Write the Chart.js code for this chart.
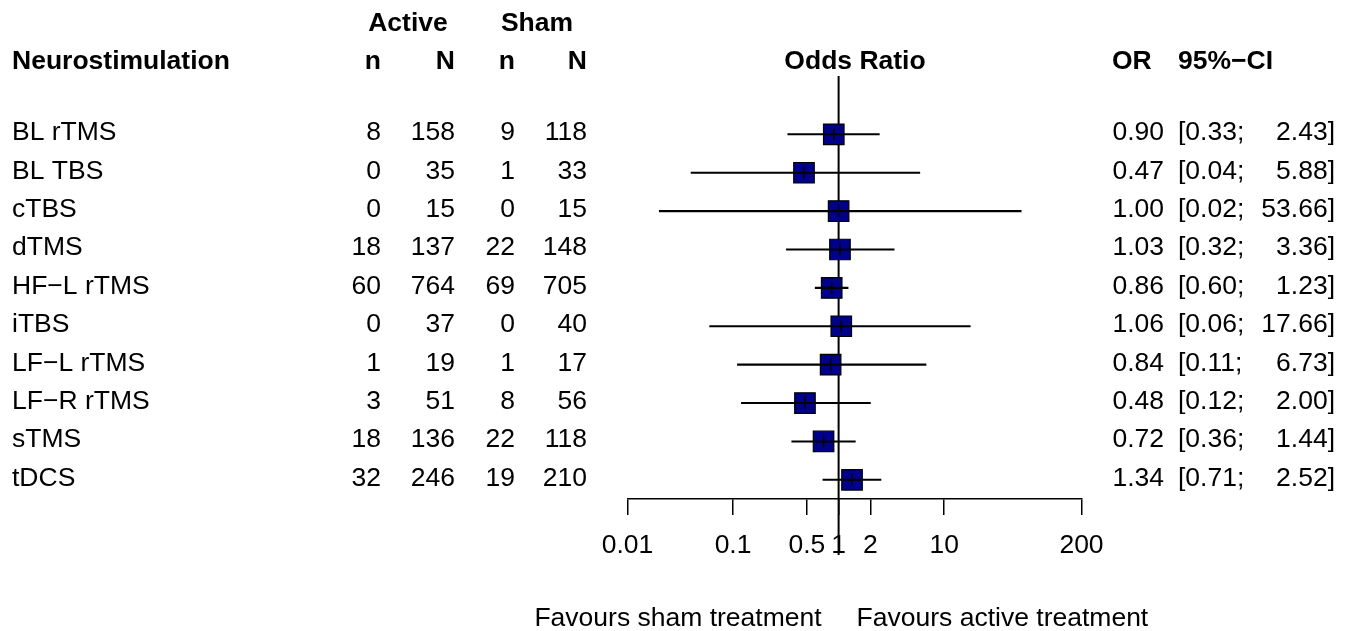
<!DOCTYPE html>
<html>
<head>
<meta charset="utf-8">
<script src="https://cdn.jsdelivr.net/npm/chart.js@4.4.1/dist/chart.umd.min.js"></script>
<style>
  body { margin: 0; background: #fff; }
  canvas { display: block; }
</style>
</head>
<body>
<canvas id="forest" width="1346" height="631"></canvas>
<script>
// rows of the forest plot
const labels = ["BL rTMS", "BL TBS", "cTBS", "dTMS", "HF\u2212L rTMS", "iTBS", "LF\u2212L rTMS", "LF\u2212R rTMS", "sTMS", "tDCS"];
const activeEvents = [8, 0, 0, 18, 60, 0, 1, 3, 18, 32];
const activeTotal = [158, 35, 15, 137, 764, 37, 19, 51, 136, 246];
const shamEvents = [9, 1, 0, 22, 69, 0, 1, 8, 22, 19];
const shamTotal = [118, 33, 15, 148, 705, 40, 17, 56, 118, 210];
const oddsRatio = [0.90, 0.47, 1.00, 1.03, 0.86, 1.06, 0.84, 0.48, 0.72, 1.34];
const ciLower = [0.33, 0.04, 0.02, 0.32, 0.60, 0.06, 0.11, 0.12, 0.36, 0.71];
const ciUpper = [2.43, 5.88, 53.66, 3.36, 1.23, 17.66, 6.73, 2.00, 1.44, 2.52];
const xTicks = [0.01, 0.1, 0.5, 1, 2, 10, 200];
const refValue = 1;

const FONT = '"Liberation Sans", Arial, Helvetica, sans-serif';
const SIZE = 26.5;
const rowIdx = labels.map((_, i) => i);

// text columns (x positions in px)
const col = {
  label: 12,
  aN: 381, aT: 455, sN: 515, sT: 587,
  or: 1164, ciL: 1178, ciR: 1335,
};

const textPlugin = {
  id: "forestText",
  beforeDatasetsDraw(chart) {
    const c = chart.ctx, x = chart.scales.x, area = chart.chartArea;
    const px = x.getPixelForValue(refValue);
    c.save();
    c.strokeStyle = "#000";
    c.lineWidth = 2;
    c.beginPath();
    c.moveTo(px, area.top);
    c.lineTo(px, area.bottom + 56);
    c.stroke();
    c.restore();
  },
  afterDraw(chart) {
    const c = chart.ctx, y = chart.scales.y, x = chart.scales.x, area = chart.chartArea;
    c.save();
    c.fillStyle = "#000";
    c.textBaseline = "alphabetic";

    // headers
    c.font = "bold " + SIZE + "px " + FONT;
    const h1 = area.top - 45.5, h2 = area.top - 7.5;
    c.textAlign = "center";
    c.fillText("Active", 408, h1);
    c.fillText("Sham", 537, h1);
    c.fillText("Odds Ratio", 855, h2);
    c.textAlign = "left";
    c.fillText("Neurostimulation", col.label, h2);
    c.fillText("OR", 1112, h2);
    c.fillText("95%\u2212CI", col.ciL, h2);
    c.textAlign = "right";
    c.fillText("n", col.aN, h2);
    c.fillText("N", col.aT, h2);
    c.fillText("n", col.sN, h2);
    c.fillText("N", col.sT, h2);

    // rows
    c.font = SIZE + "px " + FONT;
    labels.forEach((lab, i) => {
      const yy = y.getPixelForValue(i) + 6;
      c.textAlign = "left";
      c.fillText(lab, col.label, yy);
      c.fillText("[" + ciLower[i].toFixed(2) + ";", col.ciL, yy);
      c.textAlign = "right";
      c.fillText(String(activeEvents[i]), col.aN, yy);
      c.fillText(String(activeTotal[i]), col.aT, yy);
      c.fillText(String(shamEvents[i]), col.sN, yy);
      c.fillText(String(shamTotal[i]), col.sT, yy);
      c.fillText(oddsRatio[i].toFixed(2), col.or, yy);
      c.fillText(ciUpper[i].toFixed(2) + "]", col.ciR, yy);
    });

    // favours labels
    const px = x.getPixelForValue(refValue);
    const fy = area.bottom + 127;
    c.textAlign = "right";
    c.fillText("Favours sham treatment", px - 17, fy);
    c.textAlign = "left";
    c.fillText("Favours active treatment", px + 18, fy);
    c.restore();
  }
};

const ctx = document.getElementById("forest").getContext("2d");
new Chart(ctx, {
  type: "bar",
  data: {
    datasets: [
      {
        type: "scatter",
        label: "estimate mark",
        data: rowIdx.map(i => ({ x: oddsRatio[i], y: i })),
        pointStyle: "line",
        rotation: 90,
        pointRadius: 6,
        borderColor: "#000",
        borderWidth: 1.5,
        order: 1,
      },
      {
        type: "bar",
        label: "95% CI",
        indexAxis: "y",
        data: rowIdx.map(i => ({ y: i, x: [ciLower[i], ciUpper[i]] })),
        backgroundColor: "#000",
        barThickness: 1.4,
        order: 2,
      },
      {
        type: "scatter",
        label: "OR",
        data: rowIdx.map(i => ({ x: oddsRatio[i], y: i })),
        pointStyle: "rect",
        pointRadius: 14.5,
        backgroundColor: "#00008B",
        borderColor: "#000",
        borderWidth: 1.2,
        order: 3,
      },
    ],
  },
  options: {
    responsive: false,
    animation: false,
    devicePixelRatio: 1,
    layout: {
      padding: { left: 627.5, right: 264.5, top: 76, bottom: 0 },
    },
    plugins: {
      legend: { display: false },
      tooltip: { enabled: false },
    },
    scales: {
      x: {
        type: "logarithmic",
        position: "bottom",
        min: 0.01,
        max: 200,
        offset: false,
        afterBuildTicks: (s) => { s.ticks = xTicks.map(v => ({ value: v })); },
        afterFit: (s) => { s.height = 132; },
        grid: {
          offset: false,
          drawOnChartArea: false,
          drawTicks: true,
          tickLength: 16,
          color: "#000",
          lineWidth: 1.5,
        },
        border: { display: true, color: "#000", width: 1.5 },
        ticks: {
          autoSkip: false,
          maxRotation: 0,
          padding: 15,
          color: "#000",
          font: { family: FONT, size: SIZE },
          callback: (v) => String(v),
        },
      },
      y: {
        type: "linear",
        reverse: true,
        offset: false,
        grid: { offset: false },
        min: -1.52,
        max: 9.5,
        display: false,
      },
    },
  },
  plugins: [textPlugin],
});
</script>
</body>
</html>
